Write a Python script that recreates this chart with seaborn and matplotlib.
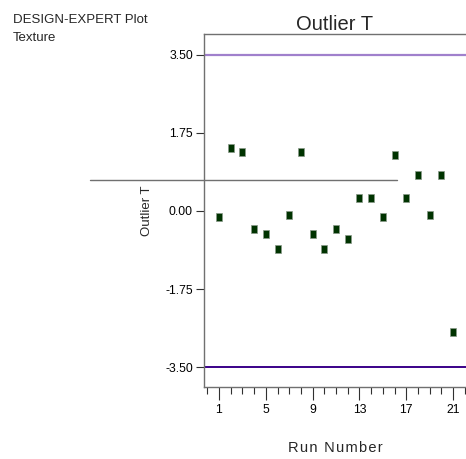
import numpy as np
import pandas as pd
import matplotlib
matplotlib.use("Agg")
import matplotlib.pyplot as plt
import seaborn as sns
from matplotlib.ticker import MultipleLocator

# values
runs = list(range(1, 22))
outlier_t = [-0.13, 1.40, 1.31, -0.41, -0.51, -0.86, -0.09, 1.31, -0.51, -0.86,
             -0.41, -0.63, 0.28, 0.28, -0.13, 1.25, 0.29, 0.81, -0.09, 0.81, -2.71]
upper_limit = 3.50
lower_limit = -3.50
y_ticks = [-3.50, -1.75, 0.00, 1.75, 3.50]
x_ticks = [1, 5, 9, 13, 17, 21]
stray_line_y = 0.69
stray_line_x = [-10.0, 16.2]

df = pd.DataFrame({"Run": runs, "T": outlier_t})

sns.set_style("white")
plt.rcParams["font.family"] = ["Liberation Sans", "DejaVu Sans"]

fig = plt.figure(figsize=(4.66, 4.59), dpi=100)
ax = fig.add_axes([204 / 466, 1 - 387 / 459, 1 - 204 / 466, (387 - 34) / 459])

rect = [(-0.36, -0.5), (0.36, -0.5), (0.36, 0.5), (-0.36, 0.5), (-0.36, -0.5)]
sns.scatterplot(data=df, x="Run", y="T", marker=rect, s=26, color="#003300",
                edgecolor="#8a9a8a", linewidth=0.5, ax=ax, zorder=3)

ax.axhline(upper_limit, color="#a080cc", lw=1.6, zorder=2)
ax.axhline(lower_limit, color="#3a0088", lw=1.4, zorder=2)
ax.plot(stray_line_x, [stray_line_y, stray_line_y], color="#707070", lw=1.0,
        clip_on=False, zorder=2)

ax.set_xlim(-0.28, 22.1)
ax.set_ylim(-3.94, 3.96)
ax.set_xticks(x_ticks)
ax.xaxis.set_minor_locator(MultipleLocator(1))
ax.set_yticks(y_ticks)
ax.set_yticklabels([f"{v:.2f}" for v in y_ticks])

for side in ["left", "bottom", "top"]:
    ax.spines[side].set_color("#707070")
    ax.spines[side].set_linewidth(1.0)
ax.spines["right"].set_visible(False)

ax.tick_params(axis="both", which="major", direction="out", labelsize=8.8,
               color="#303030", width=0.8, labelcolor="#000000")
ax.tick_params(axis="x", which="major", length=9, bottom=True, pad=3)
ax.tick_params(axis="x", which="minor", length=5, bottom=True, color="#303030", width=0.8)
ax.tick_params(axis="y", which="major", length=6, left=True, pad=2)

ax.set_ylabel("Outlier T", fontsize=9.5, labelpad=9)
ax.set_xlabel("\u200a".join("Run Number"), fontsize=10.5, labelpad=18)
ax.set_title("Outlier T", fontsize=14.5, pad=3)

fig.text(13 / 466, 1 - 29 / 459, "DESIGN-EXPERT Plot\nTexture", fontsize=9.5,
         va="center", ha="left", linespacing=1.6)

fig.savefig("out.png", dpi=100)
